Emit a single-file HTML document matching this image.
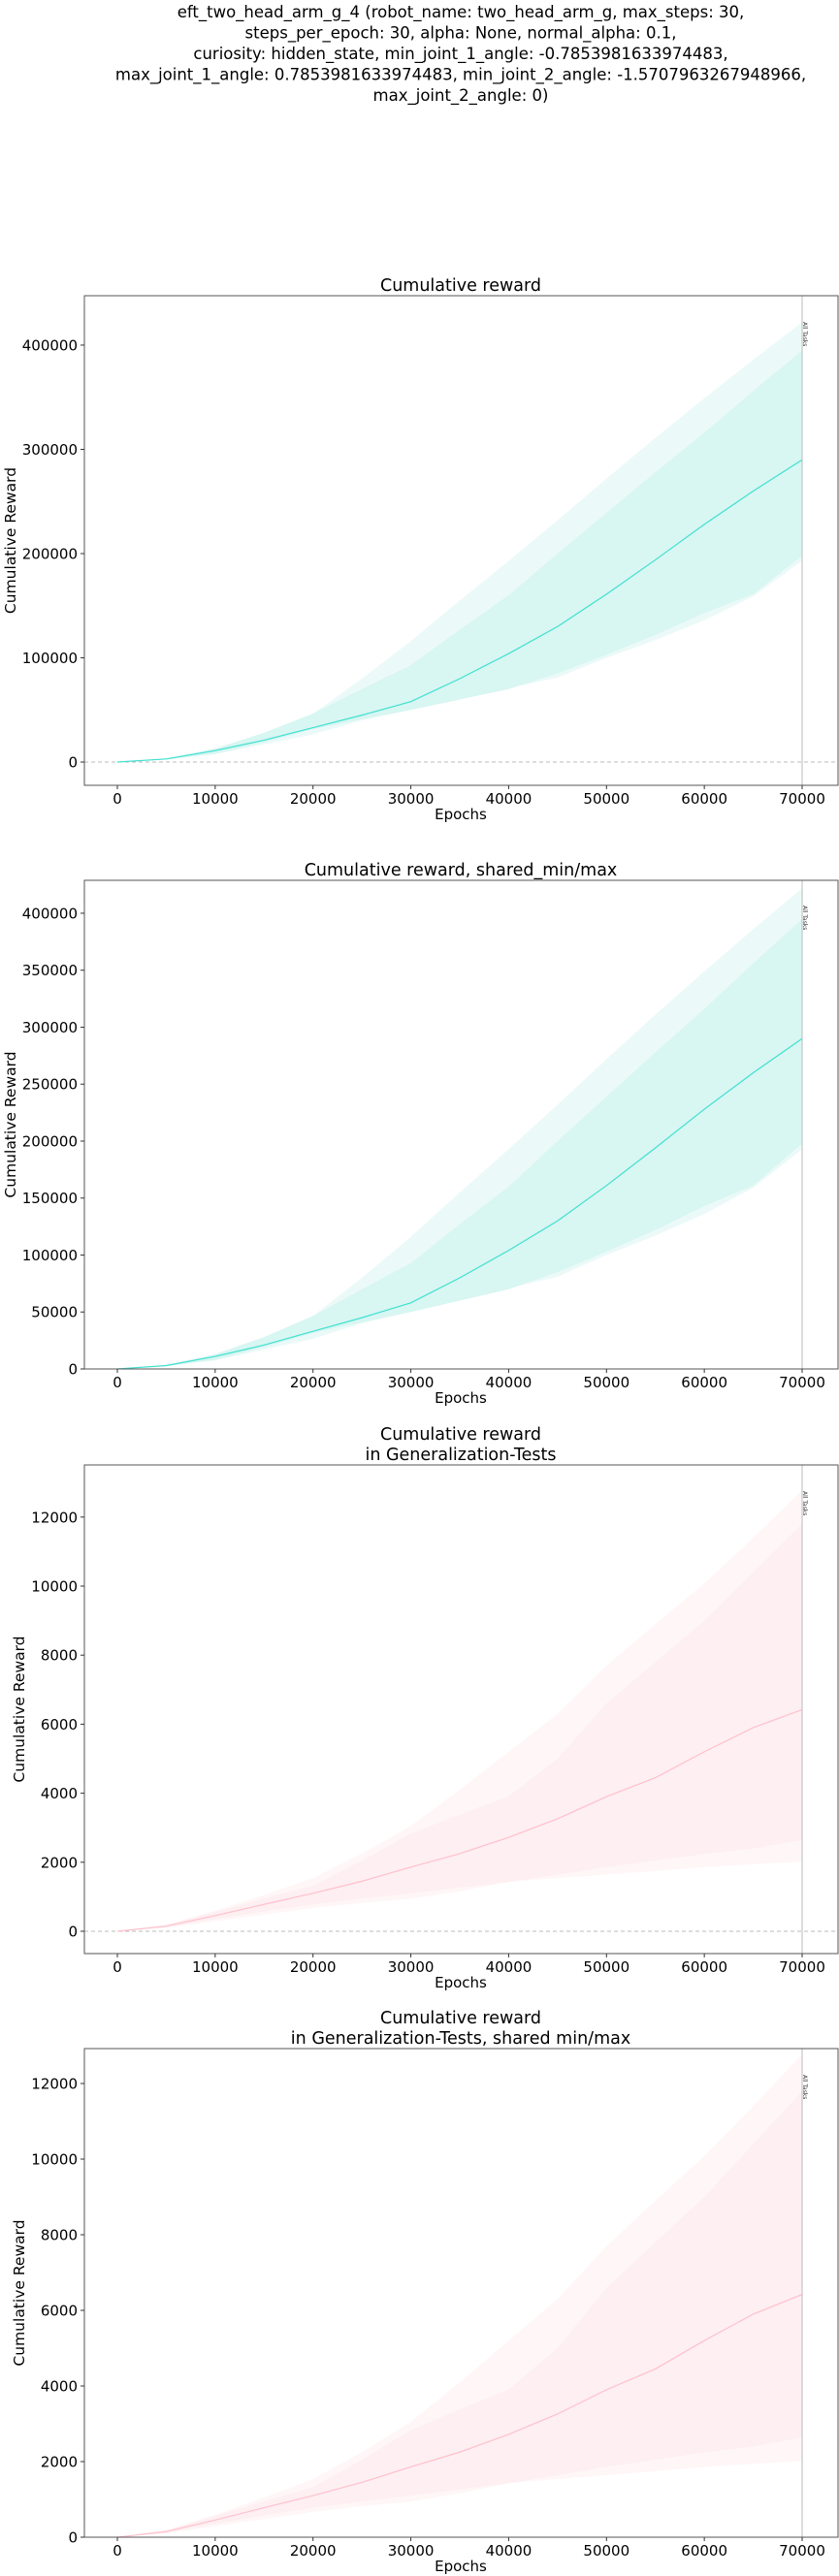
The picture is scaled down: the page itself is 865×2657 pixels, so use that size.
<!DOCTYPE html>
<html><head><meta charset="utf-8"><style>
html,body{margin:0;padding:0;background:#fff;}
svg{display:block;}
</style></head><body>
<svg id="fig" width="865" height="2657" xmlns="http://www.w3.org/2000/svg" font-family="DejaVu Sans, sans-serif"></svg>
<script>
// ---- data ----
const epochs = [0,5000,10000,15000,20000,25000,30000,35000,40000,45000,50000,55000,60000,65000,70000];
const rewardMean   = [0,3000,11000,21000,33000,45000,58000,80000,104000,130000,161000,194000,228000,260000,290000];
const rewardInnerHi= [0,3500,13000,28000,46500,70000,93000,127000,160000,200000,239000,278000,316000,356000,395000];
const rewardOuterHi= [0,3500,13000,28000,46500,80000,116000,155000,193000,232000,272000,311000,349000,386000,422000];
const rewardInnerLo= [0,2500,8000,19000,31500,41000,50000,60000,70000,85000,103000,122000,143000,161000,198000];
const rewardOuterLo= [0,2300,7500,17000,26500,40000,50000,60000,71000,81000,100000,117000,136000,159000,193000];
const genMean    = [0,150,454,780,1100,1450,1860,2250,2720,3260,3900,4450,5200,5900,6420];
const genInnerHi = [0,180,560,950,1320,2050,2830,3380,3910,5000,6600,7800,9000,10400,11800];
const genOuterHi = [0,190,600,1050,1540,2250,3050,4100,5200,6300,7700,8900,10080,11400,12780];
const genInnerLo = [0,120,350,580,780,950,1100,1270,1430,1640,1860,2050,2240,2400,2640];
const genOuterLo = [0,100,290,480,670,820,940,1160,1430,1540,1640,1750,1860,1940,2020];
const xTicks = [0,10000,20000,30000,40000,50000,60000,70000];
const rewardTicks1 = [0,100000,200000,300000,400000];
const rewardTicks2 = [0,50000,100000,150000,200000,250000,300000,350000,400000];
const genTicks = [0,2000,4000,6000,8000,10000,12000];
const titleLines = ["eft_two_head_arm_g_4 (robot_name: two_head_arm_g, max_steps: 30,",
 "steps_per_epoch: 30, alpha: None, normal_alpha: 0.1,",
 "curiosity: hidden_state, min_joint_1_angle: -0.7853981633974483,",
 "max_joint_1_angle: 0.7853981633974483, min_joint_2_angle: -1.5707963267948966,",
 "max_joint_2_angle: 0)"];

const NS="http://www.w3.org/2000/svg";
const fig=document.getElementById('fig');
function mk(tag,attrs,parent){const e=document.createElementNS(NS,tag);for(const k in attrs)e.setAttribute(k,attrs[k]);(parent||fig).appendChild(e);return e;}

titleLines.forEach((t,i)=>{
  const e=mk('text',{x:475,y:18+i*21.5,'font-size':16.5,'text-anchor':'middle',fill:'#000'});
  
  
  e.textContent=t;
});

function chart(cfg){
  const g=mk('g',{});
  
  
  const L=87,R=864,T=cfg.top,B=cfg.bottom;
  const x0px=121,x1px=827;
  const X=v=>x0px+v/70000*(x1px-x0px);
  const Y=v=>B-(v-cfg.ymin)/(cfg.ymax-cfg.ymin)*(B-T);
  const band=(hi,lo,fill,nm)=>{
    let d='M'+epochs.map((e,i)=>X(e)+','+Y(hi[i])).join('L');
    d+='L'+epochs.slice().reverse().map((e,j)=>X(e)+','+Y(lo[epochs.length-1-j])).join('L')+'Z';
    const p=mk('path',{d:d,fill:fill,stroke:'none'},g);
    
    
  };
  band(cfg.outerHi,cfg.outerLo,cfg.outerFill,'outer-band');
  band(cfg.innerHi,cfg.innerLo,cfg.innerFill,'inner-band');
  if(cfg.zeroLine){
    const z=mk('line',{x1:L,x2:R,y1:Y(0),y2:Y(0),stroke:'#bbb','stroke-dasharray':'4,3','stroke-width':1},g);
    
    
  }
  const ml=mk('polyline',{points:epochs.map((e,i)=>X(e)+','+Y(cfg.mean[i])).join(' '),fill:'none',stroke:cfg.line,'stroke-width':1.2},g);
  
  
  const vl=mk('line',{x1:X(70000),x2:X(70000),y1:T,y2:B,stroke:'#bbb','stroke-width':1},g);
  
  
  const at=mk('text',{x:0,y:0,'font-size':6,transform:`translate(${X(70000)+1},${T+cfg.atOff}) rotate(90)`,fill:'#333'},g);
  
  
  at.textContent='All Tasks';
  const box=mk('rect',{x:L,y:T,width:R-L,height:B-T,fill:'none',stroke:'#555','stroke-width':1},g);
  
  
  xTicks.forEach(v=>{
    mk('line',{x1:X(v),x2:X(v),y1:B,y2:B+4,stroke:'#333'},g);
    const t=mk('text',{x:X(v),y:B+19,'font-size':15,'text-anchor':'middle'},g);
    
    
    t.textContent=v;
  });
  cfg.ticks.forEach(v=>{
    mk('line',{x1:L-4,x2:L,y1:Y(v),y2:Y(v),stroke:'#333'},g);
    const t=mk('text',{x:L-7,y:Y(v)+5.5,'font-size':15,'text-anchor':'end'},g);
    
    
    t.textContent=v;
  });
  const xt=mk('text',{x:475,y:B+35,'font-size':15,'text-anchor':'middle'},g);
  
  
  xt.textContent='Epochs';
  const yt=mk('text',{x:0,y:0,'font-size':15.5,'text-anchor':'middle',transform:`translate(${cfg.ytx},${(T+B)/2}) rotate(-90)`},g);
  
  
  yt.textContent='Cumulative Reward';
  cfg.title.forEach((s,i)=>{
    const t=mk('text',{x:475,y:T-5-(cfg.title.length-1-i)*21,'font-size':17.5,'text-anchor':'middle'},g);
    
    
    t.textContent=s;
  });
}
const tq={innerFill:'#d8f6f2',outerFill:'#ebfaf8',line:'#40e0d0'};
const pk={innerFill:'#fdeff2',outerFill:'#fff6f7',line:'#ffc0cb'};
chart(Object.assign({name:'chart-cumulative-reward',top:305,bottom:810,ymin:-22300,ymax:447400,ticks:rewardTicks1,zeroLine:true,ytx:16,atOff:27,
  title:['Cumulative reward'],mean:rewardMean,innerHi:rewardInnerHi,outerHi:rewardOuterHi,innerLo:rewardInnerLo,outerLo:rewardOuterLo},tq));
chart(Object.assign({name:'chart-cumulative-reward-shared',top:908,bottom:1412,ymin:0,ymax:428900,ticks:rewardTicks2,zeroLine:false,ytx:16,atOff:26,
  title:['Cumulative reward, shared_min/max'],mean:rewardMean,innerHi:rewardInnerHi,outerHi:rewardOuterHi,innerLo:rewardInnerLo,outerLo:rewardOuterLo},tq));
chart(Object.assign({name:'chart-generalization',top:1511,bottom:2015,ymin:-646,ymax:13511,ticks:genTicks,zeroLine:true,ytx:25,atOff:27,
  title:['Cumulative reward','in Generalization-Tests'],mean:genMean,innerHi:genInnerHi,outerHi:genOuterHi,innerLo:genInnerLo,outerLo:genOuterLo},pk));
chart(Object.assign({name:'chart-generalization-shared',top:2113,bottom:2617,ymin:0,ymax:12923,ticks:genTicks,zeroLine:false,ytx:25,atOff:27,
  title:['Cumulative reward','in Generalization-Tests, shared min/max'],mean:genMean,innerHi:genInnerHi,outerHi:genOuterHi,innerLo:genInnerLo,outerLo:genOuterLo},pk));
</script>
</body></html>
